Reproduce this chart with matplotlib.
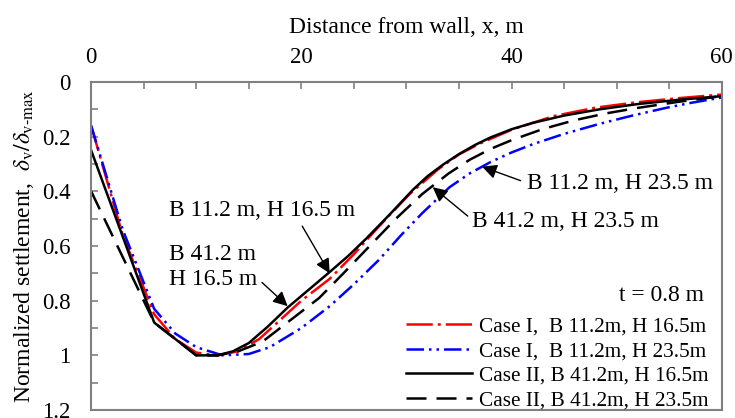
import matplotlib
matplotlib.use("Agg")
import matplotlib.pyplot as plt
from matplotlib.ticker import MultipleLocator, FormatStrFormatter

plt.rcParams['font.family'] = ['Liberation Serif', 'DejaVu Serif']
plt.rcParams['mathtext.fontset'] = 'stix'

# Case I, B 11.2m, H 16.5m
x_c1_h165 = [0, 3, 6, 8, 10, 12, 14, 16, 18, 20, 22.7, 25, 27.1, 30.3, 33, 35, 37, 40, 44, 48, 52, 56, 60]
y_c1_h165 = [0.16, 0.56, 0.85, 0.94, 0.99, 1.0, 0.985, 0.94, 0.87, 0.80, 0.72, 0.63, 0.54, 0.41, 0.32,
             0.265, 0.225, 0.175, 0.125, 0.094, 0.074, 0.059, 0.046]

# Case I, B 11.2m, H 23.5m
x_c1_h235 = [0, 3, 6, 8, 10, 12.5, 15, 17, 20, 22.7, 25, 27.4, 29.5, 31.5, 34.1, 36, 38, 40, 42, 45,
             48.4, 51.5, 54.8, 57, 60]
y_c1_h235 = [0.16, 0.54, 0.83, 0.92, 0.97, 1.0, 0.995, 0.97, 0.90, 0.82, 0.74, 0.65, 0.56, 0.48, 0.385,
             0.335, 0.293, 0.258, 0.228, 0.19, 0.153, 0.123, 0.094, 0.077, 0.057]

# Case II, B 41.2m, H 16.5m
x_c2_h165 = [0, 6, 10, 12, 13.5, 15, 16.8, 18.7, 20.7, 22.7, 24.5, 26.2, 28.4, 30.6, 32, 33.5, 35,
             36.5, 38, 40, 42, 45, 48.4, 52, 56, 60]
y_c2_h165 = [0.25, 0.88, 1.0, 1.0, 0.985, 0.955, 0.895, 0.825, 0.76, 0.695, 0.635, 0.572, 0.485, 0.395,
             0.345, 0.302, 0.264, 0.231, 0.203, 0.173, 0.150, 0.123, 0.100, 0.081, 0.065, 0.052]

# Case II, B 41.2m, H 23.5m
x_c2_h235 = [0, 6, 10, 12, 14, 16.3, 19, 21.7, 24, 26.5, 29, 31.5, 34, 36, 38, 40, 43, 46, 49, 52, 56, 60]
y_c2_h235 = [0.40, 0.88, 1.0, 1.0, 0.985, 0.95, 0.87, 0.79, 0.70, 0.60, 0.50, 0.41, 0.335, 0.285, 0.245,
             0.213, 0.172, 0.140, 0.115, 0.095, 0.072, 0.052]

labels = ["Case I,  B 11.2m, H 16.5m", "Case I,  B 11.2m, H 23.5m",
          "Case II, B 41.2m, H 16.5m", "Case II, B 41.2m, H 23.5m"]

fig = plt.figure(figsize=(7.35, 4.18), dpi=100)
ax = fig.add_axes([0.124, 0.019, 0.858, 0.785])

lw = 1.8
ax.plot(x_c1_h165, y_c1_h165, color="#ff0000", lw=lw, dashes=(10.5, 2, 1.2, 2), label=labels[0])
ax.plot(x_c1_h235, y_c1_h235, color="#0000ff", lw=lw, dashes=(7, 2, 1, 2, 1, 2), label=labels[1])
ax.plot(x_c2_h165, y_c2_h165, color="black", lw=lw, label=labels[2])
ax.plot(x_c2_h235, y_c2_h235, color="black", lw=lw, dashes=(8, 4), label=labels[3])

ax.set_xlim(0, 60)
ax.set_ylim(1.2, 0)
ax.xaxis.set_major_locator(MultipleLocator(20))
ax.xaxis.set_minor_locator(MultipleLocator(5))
ax.yaxis.set_major_locator(MultipleLocator(0.2))
ax.yaxis.set_minor_locator(MultipleLocator(0.1))
ax.yaxis.set_major_formatter(FormatStrFormatter('%g'))
ax.xaxis.tick_top()
ax.xaxis.set_label_position('top')
ax.tick_params(which='both', direction='in', color='#808080', length=5, width=1.2,
               labelsize=16.5, pad=10)
ax.tick_params(axis='y', pad=15)
for s in ax.spines.values():
    s.set_color('#808080')
    s.set_linewidth(1.5)

ax.set_xlabel("Distance from wall, x, m", fontsize=17, labelpad=10)
ax.set_ylabel(r"Normalized settlement,  $\delta_{\mathrm{v}}/\delta_{\mathrm{v\text{-}max}}$",
              fontsize=17, labelpad=4)

fs = 17
arrow = dict(arrowstyle='-|>', color='black', lw=1, mutation_scale=22, shrinkB=0)
ax.annotate("B 11.2 m, H 16.5 m", xy=(22.7, 0.70), xytext=(7.4, 0.47), fontsize=fs,
            va='center', ha='left',
            arrowprops=dict(arrow, shrinkA=2, relpos=(0.70, 0)))
ax.annotate("B 41.2 m\nH 16.5 m", xy=(18.7, 0.82), xytext=(7.4, 0.675), fontsize=fs,
            va='center', ha='left', linespacing=1.25,
            arrowprops=dict(arrow, shrinkA=2, relpos=(1.0, 0.25)))
ax.annotate("B 11.2 m, H 23.5 m", xy=(37.2, 0.31), xytext=(41.5, 0.37), fontsize=fs,
            va='center', ha='left',
            arrowprops=dict(arrow, shrinkA=3, relpos=(0, 0.5)))
ax.annotate("B 41.2 m, H 23.5 m", xy=(32.5, 0.385), xytext=(36.2, 0.51), fontsize=fs,
            va='center', ha='left',
            arrowprops=dict(arrow, shrinkA=1, relpos=(0, 0.6)))
ax.text(58.3, 0.78, "t = 0.8 m", fontsize=fs, ha='right', va='center')

ax.legend(loc='lower right', bbox_to_anchor=(1.0, -0.04), frameon=False, fontsize=15.3,
          handlelength=3.1, handletextpad=0.35, labelspacing=0.22, borderaxespad=0.2)

fig.savefig("out.png", dpi=100)
